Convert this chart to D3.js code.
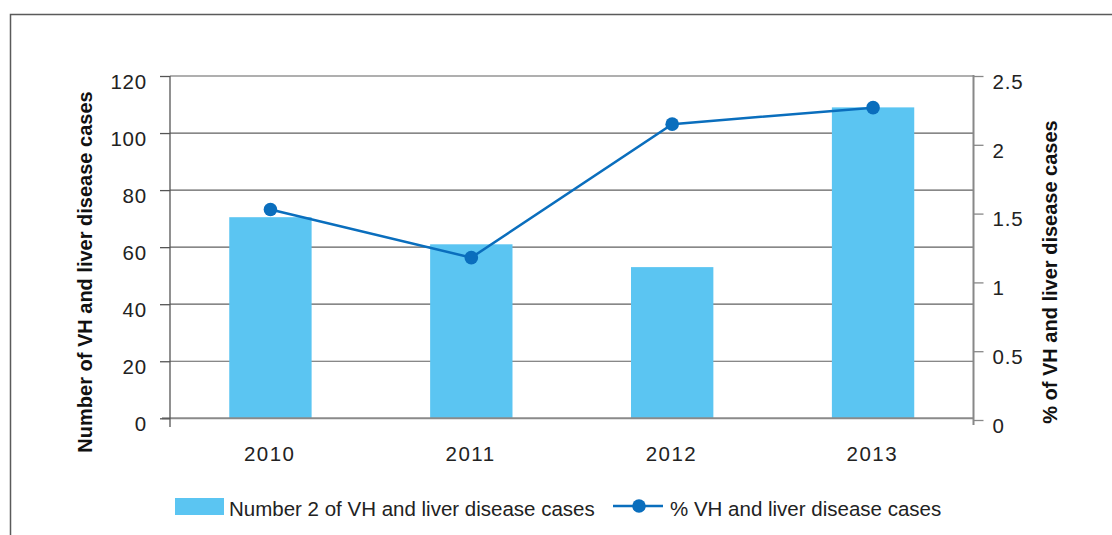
<!DOCTYPE html>
<html>
<head>
<meta charset="utf-8">
<script src="https://cdn.jsdelivr.net/npm/d3@7"></script>
<style>
  html, body { margin: 0; padding: 0; background: #fff; }
  svg { display: block; font-family: "Liberation Sans", Arial, sans-serif; }
</style>
</head>
<body>
<svg id="chart" width="1112" height="535"></svg>
<script>
const years = ["2010", "2011", "2012", "2013"];
const caseCounts = [70.5, 61, 53, 109];
const casePercents = [1.53, 1.18, 2.15, 2.27];
const leftTicks = [0, 20, 40, 60, 80, 100, 120];
const rightTicks = [0, 0.5, 1, 1.5, 2, 2.5];
const barLabel = "Number 2 of VH and liver disease cases";
const lineLabel = "% VH and liver disease cases";
const leftTitle = "Number of VH and liver disease cases";
const rightTitle = "% of VH and liver disease cases";

const svg = d3.select("#chart");
const barColor = "#5bc5f2";
const lineColor = "#0a6ebd";
const tickFont = 20.5;

const x0 = 170, x1 = 973.5;
const x = d3.scaleBand().domain(years).range([x0, x1]).paddingInner(0.59).paddingOuter(0.295);
const yL = d3.scaleLinear().domain([0, 120]).range([418.3, 76]);
const yR = d3.scaleLinear().domain([0, 2.5]).range([420, 76]);

// Frame
svg.append("path").attr("d", "M10.5,535 V14.5 H1112")
  .attr("fill", "none").attr("stroke", "#5a5a5a").attr("stroke-width", 1.5);

// Gridlines
svg.append("g").selectAll("line").data(leftTicks.filter(d => d > 0)).join("line")
  .attr("x1", x0).attr("x2", x1)
  .attr("y1", d => yL(d)).attr("y2", d => yL(d))
  .attr("stroke", "#606060").attr("stroke-width", 1.2);

// Bars
svg.append("g").selectAll("rect").data(years).join("rect")
  .attr("x", d => x(d)).attr("width", x.bandwidth())
  .attr("y", (d, i) => yL(caseCounts[i]))
  .attr("height", (d, i) => yL(0) - yL(caseCounts[i]))
  .attr("fill", barColor);

// Zero line
svg.append("line").attr("x1", 162).attr("x2", x1)
  .attr("y1", yL(0)).attr("y2", yL(0))
  .attr("stroke", "#8a8a8a").attr("stroke-width", 2);

// Left axis
const gL = svg.append("g").attr("transform", `translate(${x0},0)`)
  .call(d3.axisLeft(yL).tickValues(leftTicks).tickSize(10).tickPadding(13).tickFormat(d3.format("d")));
gL.select(".domain").remove();
gL.append("line").attr("x1", 0).attr("x2", 0).attr("y1", 76).attr("y2", 427)
  .attr("stroke", "#555").attr("stroke-width", 1.3);
gL.selectAll(".tick line").attr("stroke", "#555").attr("stroke-width", 1.3);
gL.selectAll(".tick text").attr("font-size", tickFont).attr("fill", "#222").attr("dy", "0.6em")
  .attr("letter-spacing", 0.8)
  .attr("font-family", "'Liberation Sans', Arial, sans-serif");

// Right axis
const gR = svg.append("g").attr("transform", `translate(${x1},0)`)
  .call(d3.axisRight(yR).tickValues(rightTicks).tickSize(10).tickPadding(9).tickFormat(d => d3.format("")(d)));
gR.select(".domain").remove();
gR.append("line").attr("x1", 0).attr("x2", 0).attr("y1", 75).attr("y2", 425)
  .attr("stroke", "#888").attr("stroke-width", 2);
gR.selectAll(".tick line").attr("stroke", "#888").attr("stroke-width", 1.3);
gR.selectAll(".tick text").attr("font-size", tickFont).attr("fill", "#222").attr("dy", "0.6em")
  .attr("letter-spacing", 0.8)
  .attr("font-family", "'Liberation Sans', Arial, sans-serif");

// X axis labels
const gX = svg.append("g").attr("transform", `translate(0,${yL(0)})`)
  .call(d3.axisBottom(x).tickSize(0).tickPadding(28));
gX.select(".domain").remove();
gX.selectAll(".tick text").attr("font-size", tickFont).attr("fill", "#222")
  .attr("letter-spacing", 1.5).attr("dx", -0.75)
  .attr("font-family", "'Liberation Sans', Arial, sans-serif");

// Line series
const pts = years.map((d, i) => [x(d) + x.bandwidth() / 2, yR(casePercents[i])]);
svg.append("path").attr("d", d3.line()(pts))
  .attr("fill", "none").attr("stroke", lineColor).attr("stroke-width", 2.5);
svg.append("g").selectAll("circle").data(pts).join("circle")
  .attr("cx", d => d[0]).attr("cy", d => d[1]).attr("r", 6.8).attr("fill", lineColor);

// Axis titles
svg.append("text").attr("transform", "translate(92,272) rotate(-90)")
  .attr("text-anchor", "middle").attr("font-size", 20).attr("font-weight", "bold").attr("fill", "#111")
  .text(leftTitle);
svg.append("text").attr("transform", "translate(1057,272) rotate(-90)")
  .attr("text-anchor", "middle").attr("font-size", 20).attr("font-weight", "bold").attr("fill", "#111")
  .text(rightTitle);

// Legend
const lg = svg.append("g");
lg.append("rect").attr("x", 175).attr("y", 498).attr("width", 49).attr("height", 17).attr("fill", barColor);
lg.append("text").attr("x", 229).attr("y", 516).attr("font-size", 20.5).attr("fill", "#222").text(barLabel);
lg.append("line").attr("x1", 613).attr("x2", 663).attr("y1", 506).attr("y2", 506)
  .attr("stroke", lineColor).attr("stroke-width", 2.5);
lg.append("circle").attr("cx", 639).attr("cy", 506).attr("r", 6.8).attr("fill", lineColor);
lg.append("text").attr("x", 670).attr("y", 516).attr("font-size", 20.5).attr("fill", "#222").text(lineLabel);
</script>
</body>
</html>
